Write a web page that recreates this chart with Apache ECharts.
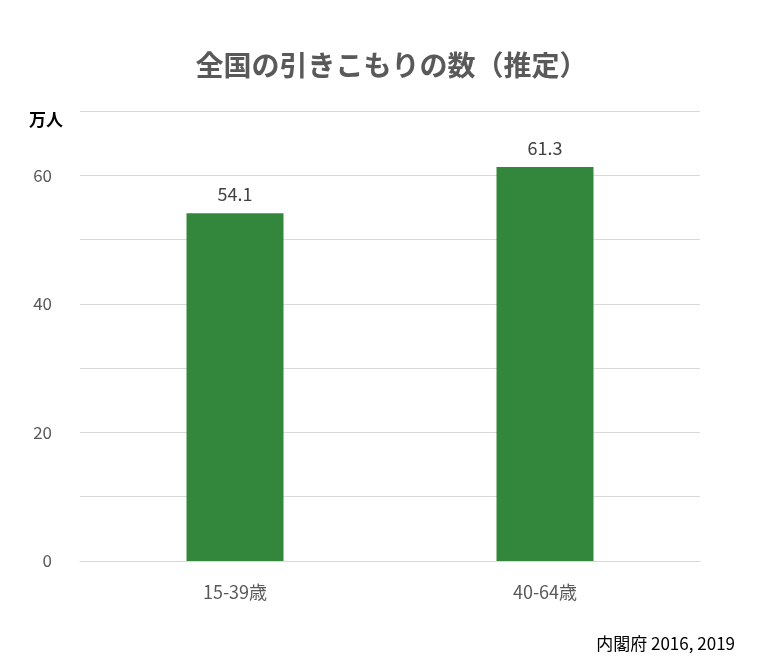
<!DOCTYPE html>
<html><head><meta charset="utf-8">
<script src="https://cdn.jsdelivr.net/npm/echarts@6/dist/echarts.min.js"></script>
<style>html,body{margin:0;padding:0;background:#fff}#c{width:783px;height:670px}</style>
</head><body><div id="c"></div>
<script>
const categories = ['15-39歳', '40-64歳'];
const values = [54.1, 61.3];
const yTicks = [0, 20, 40, 60];
const chart = echarts.init(document.getElementById('c'));
const F = '"Noto Sans CJK JP","Noto Sans",sans-serif';
chart.setOption({
  animation: false,
  title: [
    {text: '全国の引きこもりの数（推定）', left: 'center', top: 46, textStyle: {fontFamily: F, fontSize: 28, fontWeight: 'bold', color: '#595959'}},
    {text: '万人', left: 24, top: 106, textStyle: {fontFamily: F, fontSize: 17, fontWeight: 'bold', color: '#000'}},
    {text: '内閣府 2016, 2019', right: 43, top: 630, textStyle: {fontFamily: F, fontSize: 17, fontWeight: 'normal', color: '#000'}}
  ],
  grid: {left: 80, right: 83, top: 111, bottom: 109},
  xAxis: {type: 'category', data: categories,
    axisLine: {lineStyle: {color: '#d9d9d9'}}, axisTick: {show: false},
    axisLabel: {fontFamily: F, fontSize: 18, color: '#595959', margin: 22}},
  yAxis: {type: 'value', min: 0, max: 70, interval: 10,
    axisLine: {show: false}, axisTick: {show: false},
    axisLabel: {fontFamily: F, fontSize: 17, color: '#595959', margin: 28,
      formatter: v => yTicks.includes(v) ? String(v) : ''},
    splitLine: {lineStyle: {color: '#d9d9d9', width: 1},
      interval: (i, v) => yTicks.includes(v) && v !== 0}},
  series: [{type: 'bar', data: values, barWidth: 97,
    itemStyle: {color: '#33873d'},
    label: {show: true, position: 'top', distance: 10, fontFamily: F, fontSize: 18, color: '#404040', formatter: p => p.value.toFixed(1)}}]
});
</script></body></html>
